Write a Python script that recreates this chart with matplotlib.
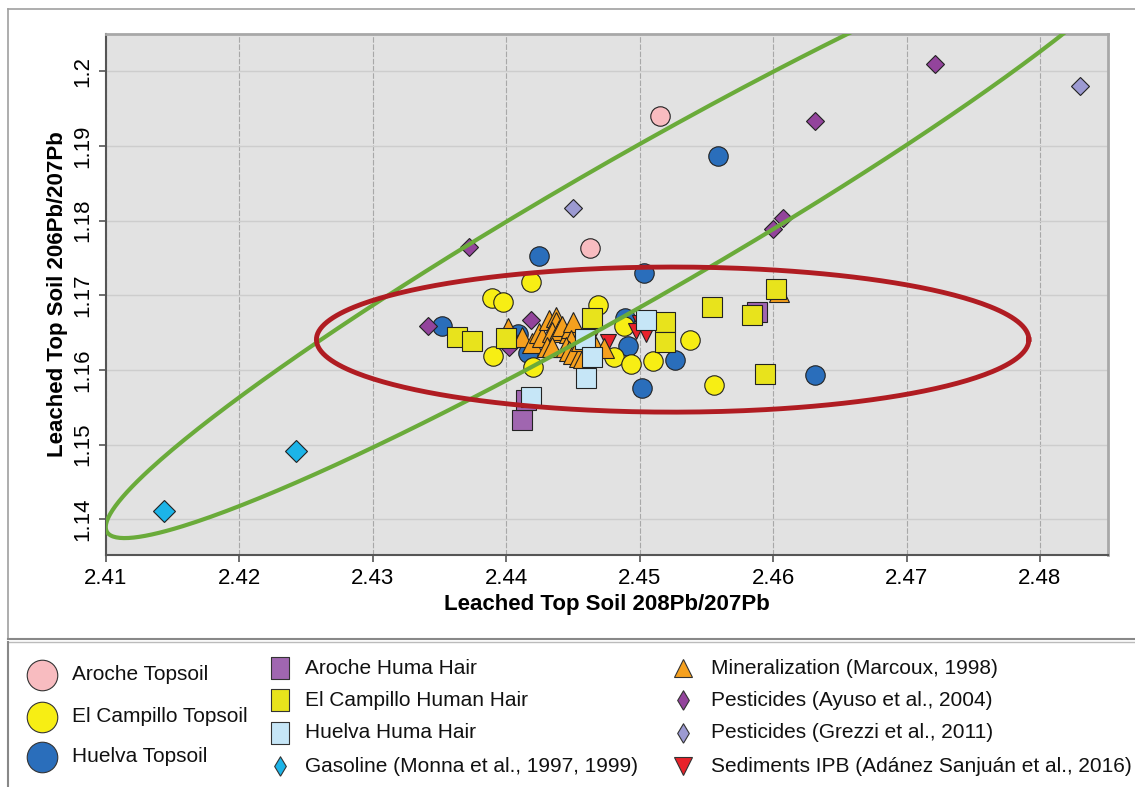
import numpy as np
import matplotlib
matplotlib.use('Agg')
import matplotlib.pyplot as plt
from matplotlib.ticker import FixedLocator, FuncFormatter

plt.rcParams['font.family'] = ['Liberation Sans', 'DejaVu Sans']

# ---------------- data ----------------
aroche_topsoil_x = [2.4515, 2.4463]
aroche_topsoil_y = [1.1940, 1.1763]

campillo_topsoil_x = [2.44187, 2.43893, 2.43972, 2.44689, 2.44884, 2.43897,
                      2.44197, 2.44809, 2.44936, 2.45101, 2.45378, 2.45558]
campillo_topsoil_y = [1.17177, 1.16966, 1.16905, 1.16865, 1.16587, 1.16192,
                      1.16042, 1.16168, 1.16078, 1.16122, 1.16399, 1.15792]

huelva_topsoil_x = [2.45590, 2.44247, 2.45030, 2.43521, 2.44085, 2.44165,
                    2.44891, 2.44914, 2.45266, 2.45021, 2.46312]
huelva_topsoil_y = [1.18870, 1.17529, 1.17294, 1.16587, 1.16480, 1.16225,
                    1.16690, 1.16315, 1.16131, 1.15756, 1.15930]

aroche_hair_x = [2.44118, 2.45882, 2.44150]
aroche_hair_y = [1.15327, 1.16779, 1.15595]

campillo_hair_x = [2.46022, 2.45541, 2.45845, 2.45191, 2.45191, 2.45940,
                   2.43628, 2.43743, 2.43998, 2.44642]
campillo_hair_y = [1.17079, 1.16838, 1.16735, 1.16645, 1.16377, 1.15944,
                   1.16436, 1.16390, 1.16422, 1.16690]

huelva_hair_x = [2.45046, 2.44592, 2.44646, 2.44597, 2.44185]
huelva_hair_y = [1.16668, 1.16409, 1.16168, 1.15886, 1.15639]

gasoline_x = [2.42427, 2.41431]
gasoline_y = [1.14912, 1.14111]

mineral_x = [2.44015, 2.44120, 2.44195, 2.44247, 2.44270, 2.44322, 2.44375,
             2.44375, 2.44345, 2.44397, 2.44420, 2.44472, 2.44487, 2.44502,
             2.44487, 2.44307, 2.44345, 2.44450, 2.44472, 2.44502, 2.44547,
             2.44577, 2.44562, 2.44674, 2.44734, 2.46045]
mineral_y = [1.16560, 1.16440, 1.16359, 1.16493, 1.16440, 1.16668, 1.16708,
             1.16641, 1.16507, 1.16533, 1.16587, 1.16493, 1.16560, 1.16641,
             1.16399, 1.16306, 1.16306, 1.16306, 1.16252, 1.16212, 1.16172,
             1.16158, 1.16386, 1.16306, 1.16292, 1.17040]

ayuso_x = [2.47211, 2.46315, 2.46075, 2.46000, 2.43718, 2.43416, 2.44189, 2.44022]
ayuso_y = [1.20095, 1.19339, 1.18039, 1.17883, 1.17642, 1.16587, 1.16668, 1.16310]

grezzi_x = [2.48300, 2.44497]
grezzi_y = [1.19804, 1.18165]

sediments_x = [2.44659, 2.44764, 2.44974, 2.45049, 2.45004]
sediments_y = [1.16520, 1.16373, 1.16520, 1.16480, 1.16627]

# ellipses (centre and semi-axis vectors, data units)
red_ell_center = (2.45247, 1.16406)
red_ell_axes = (0.0267, 0.00972)
green_ell_center = (2.44944, 1.17874)
green_ell_major = (0.03937, 0.04044)
green_ell_minor = (0.002647, -0.008255)

x_ticks = [2.41, 2.42, 2.43, 2.44, 2.45, 2.46, 2.47, 2.48]
y_ticks = [1.14, 1.15, 1.16, 1.17, 1.18, 1.19, 1.20]

x_label = 'Leached Top Soil 208Pb/207Pb'
y_label = 'Leached Top Soil 206Pb/207Pb'

# ---------------- styles ----------------
W, H = 1135, 787
fig = plt.figure(figsize=(W / 100, H / 100), dpi=100)

ax = fig.add_axes([106 / W, 1 - 555 / H, (1108 - 106) / W, (555 - 34) / H])
ax.set_facecolor('#e2e2e2')
ax.set_xlim(2.41, 2.4851)
ax.set_ylim(1.1352, 1.2050)

ax.xaxis.set_major_locator(FixedLocator(x_ticks))
ax.yaxis.set_major_locator(FixedLocator(y_ticks))
fmt = FuncFormatter(lambda v, p: f'{v:g}')
ax.xaxis.set_major_formatter(fmt)
ax.yaxis.set_major_formatter(fmt)
ax.tick_params(axis='both', labelsize=16, length=5, width=1.2, color='#555555',
               direction='out', pad=4)
for lab in ax.get_yticklabels():
    lab.set_rotation(90)
    lab.set_va('center')

for x in x_ticks:
    ax.axvline(x, color='#a8a8a8', lw=0.8, ls=(0, (5, 1.5)), zorder=0.5)
for y in y_ticks:
    ax.axhline(y, color='#cdcdcd', lw=1.0, zorder=0.5)

for s in ['left', 'bottom']:
    ax.spines[s].set_color('#555555')
    ax.spines[s].set_linewidth(1.5)
for s in ['top', 'right']:
    ax.spines[s].set_color('#a8a8a8')
    ax.spines[s].set_linewidth(2.0)

ax.set_xlabel(x_label, fontsize=16, fontweight='bold', labelpad=4)
ax.set_ylabel(y_label, fontsize=16, fontweight='bold', labelpad=3)

edge = '#222222'
ew = 0.8
series = [
    (gasoline_x, gasoline_y, 'D', 11, '#1cb4e8', 2),
    (huelva_topsoil_x, huelva_topsoil_y, 'o', 14, '#2a6ebb', 2.05),
    (ayuso_x, ayuso_y, 'D', 9.5, '#93449c', 2.1),
    (grezzi_x, grezzi_y, 'D', 9.5, '#9c9ad2', 2.2),
    (aroche_topsoil_x, aroche_topsoil_y, 'o', 14, '#f8bcc0', 2.3),
    (campillo_topsoil_x, campillo_topsoil_y, 'o', 14, '#f7ee14', 2.5),
    (sediments_x, sediments_y, 'v', 11, '#e8222a', 2.6),
    (mineral_x, mineral_y, '^', 15, '#f5a01e', 2.7),
    (aroche_hair_x, aroche_hair_y, 's', 14, '#a066b0', 2.8),
    (campillo_hair_x, campillo_hair_y, 's', 14, '#e8e31c', 2.9),
    (huelva_hair_x, huelva_hair_y, 's', 14, '#c6e6f7', 3.0),
]
for xs, ys, m, ms, c, z in series:
    ax.plot(xs, ys, ls='none', marker=m, ms=ms, mfc=c, mec=edge, mew=ew, zorder=z)

t = np.linspace(0, 2 * np.pi, 400)
gx = green_ell_center[0] + green_ell_major[0] * np.cos(t) + green_ell_minor[0] * np.sin(t)
gy = green_ell_center[1] + green_ell_major[1] * np.cos(t) + green_ell_minor[1] * np.sin(t)
ax.plot(gx, gy, color='#6aab3a', lw=3.0, zorder=4, solid_capstyle='round')
rx = red_ell_center[0] + red_ell_axes[0] * np.cos(t)
ry = red_ell_center[1] + red_ell_axes[1] * np.sin(t)
ax.plot(rx, ry, color='#b01c22', lw=3.5, zorder=5)

# ---------------- frame + legend ----------------
lg = fig.add_axes([0, 0, 1, 1], zorder=-1)
lg.set_xlim(0, W)
lg.set_ylim(H, 0)
lg.axis('off')
lg.plot([8, W], [9, 9], color='#a0a0a0', lw=1.2)
lg.plot([8, 8], [9, 639], color='#a0a0a0', lw=1.2)
lg.plot([8, W], [639, 639], color='#888888', lw=1.5)
lg.plot([8, W], [642, 642], color='#bbbbbb', lw=1.0)
lg.plot([8, 8], [642, H], color='#888888', lw=1.5)

leg_front = fig.add_axes([0, 0, 1, 1], zorder=10)
leg_front.set_xlim(0, W)
leg_front.set_ylim(H, 0)
leg_front.axis('off')
leg_front.patch.set_alpha(0)

tall_sq = [(-0.4, -0.5), (0.4, -0.5), (0.4, 0.5), (-0.4, 0.5), (-0.4, -0.5)]
thin_d = [(0, -0.5), (0.3, 0), (0, 0.5), (-0.3, 0), (0, -0.5)]

legend_cols = [
    (42, 72, [675, 717, 757], [
        ('Aroche Topsoil', 'o', 22, '#f8bcc0'),
        ('El Campillo Topsoil', 'o', 22, '#f7ee14'),
        ('Huelva Topsoil', 'o', 22, '#2a6ebb'),
    ]),
    (280, 305, [668, 700, 733, 766], [
        ('Aroche Huma Hair', tall_sq, 16, '#a066b0'),
        ('El Campillo Human Hair', tall_sq, 16, '#e8e31c'),
        ('Huelva Huma Hair', tall_sq, 16, '#c6e6f7'),
        ('Gasoline (Monna et al., 1997, 1999)', thin_d, 14, '#1cb4e8'),
    ]),
    (683, 711, [668, 700, 733, 766], [
        ('Mineralization (Marcoux, 1998)', '^', 13, '#f5a01e'),
        ('Pesticides (Ayuso et al., 2004)', thin_d, 14, '#93449c'),
        ('Pesticides (Grezzi et al., 2011)', thin_d, 14, '#9c9ad2'),
        ('Sediments IPB (Adánez Sanjuán et al., 2016)', 'v', 13, '#e8222a'),
    ]),
]
for mx, tx, ys, entries in legend_cols:
    for yy, (label, m, ms, c) in zip(ys, entries):
        leg_front.plot([mx], [yy], ls='none', marker=m, ms=ms, mfc=c,
                       mec='#333333', mew=0.8)
        leg_front.text(tx, yy, label, fontsize=15, va='center', ha='left',
                       color='#111111')

fig.savefig('out.png', dpi=100)
